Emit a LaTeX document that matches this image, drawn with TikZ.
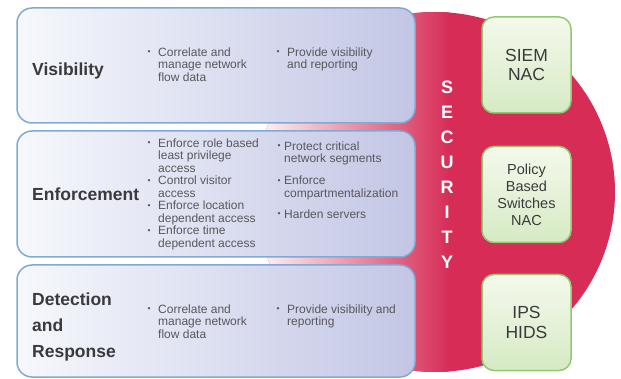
\documentclass[tikz,border=0pt]{standalone}
\usepackage{fontspec}
\setmainfont{Liberation Sans}
\definecolor{crimson}{RGB}{214,44,86}
\definecolor{boxedge}{RGB}{128,170,212}
\definecolor{boxleft}{RGB}{246,248,252}
\definecolor{boxright}{RGB}{194,198,228}
\definecolor{greenedge}{RGB}{145,200,112}
\definecolor{greentop}{RGB}{244,249,236}
\definecolor{greenbot}{RGB}{214,234,196}
\definecolor{headgray}{RGB}{58,58,62}
\definecolor{textgray}{RGB}{88,88,92}
\newcommand{\bitem}{\llap{\raisebox{1.2pt}{\fontsize{8.5}{8.5}\selectfont\textbullet}\hspace{7.5pt}}}
\newcommand{\bitemn}{\llap{\raisebox{1.2pt}{\fontsize{8.5}{8.5}\selectfont\textbullet}\hspace{3.5pt}}}

\begin{document}
\begin{tikzpicture}[x=1pt, y=-1pt,
  bluebox/.style = {draw=boxedge, line width=1.5pt, rounded corners=15pt, left color=boxleft, right color=boxright, minimum width=398pt},
  greenbox/.style = {draw=greenedge, line width=1.5pt, rounded corners=12pt, top color=greentop, bottom color=greenbot, minimum width=89pt, minimum height=96pt, align=center, text=headgray},
  head/.style = {font=\fontsize{17.5}{26}\selectfont\bfseries, text=headgray, align=left, inner sep=0pt, anchor=north west},
  bul/.style = {font=\fontsize{12}{12.5}\selectfont, text=textgray, align=left, inner sep=0pt, anchor=north west},
  letter/.style = {font=\fontsize{18}{18}\selectfont\bfseries, text=white, inner sep=0pt}]
\useasboundingbox (0,0) rectangle (621,379);

% red disc behind the layers
\fill[crimson] (435,192) circle (180);
\begin{scope}
  \clip (435,192) circle (180);
  \shade[left color=white, right color=crimson] (250,0) rectangle (450,379);
\end{scope}

% layers
\node[bluebox, minimum height=115pt] (vis) at (216,65.5) {};
\node[bluebox, minimum height=126pt] (enf) at (216,194) {};
\node[bluebox, minimum height=112pt] (det) at (216,321) {};

\node[head] (vish) at (32,62.2) {Visibility};
\node[head] (enfh) at (32,187.2) {Enforcement};
\node[head] (deth) at (32,292.3) {Detection\\and\\Response};

\node[bul] (vis1) at (158,47.2) {\bitem Correlate and\\manage network\\flow data};
\node[bul] (vis2) at (287,47.2) {\bitem Provide visibility\\and reporting};

\node[bul] (enf1) at (158,138.2) {\bitem Enforce role based\\least privilege\\access\\\bitem Control visitor\\access\\\bitem Enforce location\\dependent access\\\bitem Enforce time\\dependent access};
\node[bul] (enf2) at (284,141.2) {\bitemn Protect critical\\network segments\\[9.5pt]\bitemn Enforce\\compartmentalization\\[8.5pt]\bitemn Harden servers};

\node[bul] (det1) at (158,304.2) {\bitem Correlate and\\manage network\\flow data};
\node[bul] (det2) at (287,304.2) {\bitem Provide visibility and\\reporting};

% security letters
\foreach \l [count=\i from 0] in {S,E,C,U,R,I,T,Y}
  \node[letter] (sec\i) at (447,{87+25.1*\i}) {\l};

% tools
\node[greenbox, font=\fontsize{17.5}{19.5}\selectfont] (siem) at (526.5,65) {SIEM\\NAC};
\node[greenbox, font=\fontsize{14.5}{17}\selectfont] (pol) at (526.5,194.5) {Policy\\Based\\Switches\\NAC};
\node[greenbox, font=\fontsize{17.5}{19.5}\selectfont] (ips) at (526.5,322.5) {IPS\\HIDS};
\end{tikzpicture}
\end{document}
